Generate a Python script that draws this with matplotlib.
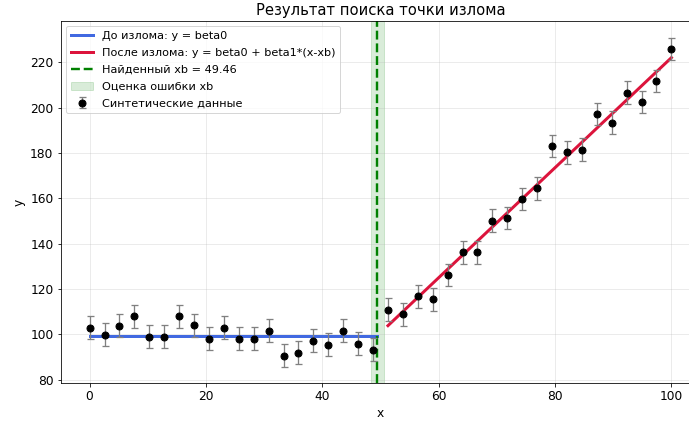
import numpy as np
import matplotlib
matplotlib.use("Agg")
import matplotlib.pyplot as plt

# синтетические данные
x = np.linspace(0, 100, 40)
y = [102.9, 99.8, 103.8, 107.9, 98.9, 98.9, 107.9, 104.0, 98.1, 102.9,
     98.1, 98.1, 101.6, 90.6, 91.9, 97.2, 95.4, 101.6, 95.9, 93.2,
     110.8, 108.8, 116.7, 115.5, 126.2, 136.1, 136.1, 150.1, 151.3, 159.7,
     164.4, 183.0, 180.2, 181.4, 197.1, 193.3, 206.5, 202.4, 211.7, 225.9]
yerr = 5.0

beta0 = 99.4
beta1 = 2.426
xb = 49.46
xb_err = 1.1

plt.rcParams['font.size'] = 12.3

fig = plt.figure(figsize=(689 / 72, 424 / 72), dpi=72)
ax = fig.add_axes([60.5 / 689, (424 - 383.3) / 424, 640 / 689, 362.8 / 424])

x_right = x[x > xb]
ax.plot([0, xb], [beta0, beta0], color='royalblue', lw=3,
        label='До излома: y = beta0')
ax.plot(x_right, beta0 + beta1 * (x_right - xb), color='crimson', lw=3,
        label='После излома: y = beta0 + beta1*(x-xb)')
ax.axvline(xb, color='green', ls='--', lw=2.4, label=f'Найденный xb = {xb:.2f}')
ax.axvspan(xb - xb_err, xb + xb_err, color='green', alpha=0.15,
           label='Оценка ошибки xb')
ax.errorbar(x, y, yerr=yerr, fmt='o', color='black', ecolor='gray',
            capsize=3.5, elinewidth=1.3, capthick=1.3, markersize=7,
            label='Синтетические данные', zorder=3)

ax.set_xlim(-5, 105)
ax.set_ylim(78.4, 238.4)
ax.set_xlabel('x')
ax.set_ylabel('y')
ax.set_title('Результат поиска точки излома', fontsize=14.8)
ax.grid(True, alpha=0.3)
ax.legend(loc='upper left', fontsize=11.3, labelspacing=0.62)

fig.savefig('out.png', dpi=72)
